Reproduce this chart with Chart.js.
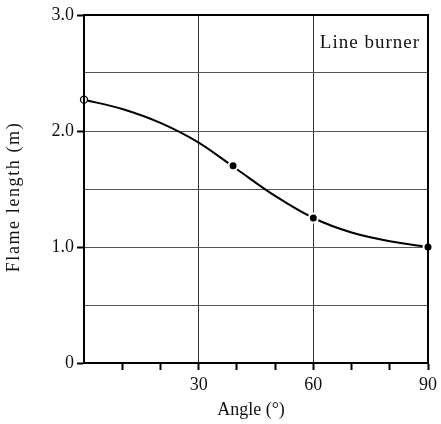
<!DOCTYPE html>
<html><head><meta charset="utf-8">
<script src="https://cdn.jsdelivr.net/npm/chart.js@4"></script>
<style>html,body{margin:0;padding:0;background:#fff}#wrap{width:441px;height:424px}</style>
</head><body><div id="wrap"><canvas id="c" width="441" height="424"></canvas></div>
<script>
// measured points (markers)
const angles = [0, 39, 60, 90];
const flameLength = [2.27, 1.70, 1.25, 1.0];
// fitted curve, every 10 degrees
const curveAngles = [0, 10, 20, 30, 40, 50, 60, 70, 80, 90];
const curveLength = [2.27, 2.19, 2.07, 1.90, 1.67, 1.44, 1.25, 1.125, 1.05, 1.0];
const xTickLabels = {30: '30', 60: '60', 90: '90'};
const yTickLabels = {0: '0', 1: '1.0', 2: '2.0', 3: '3.0'};
const xTitle = 'Angle (°)';
const yTitle = 'Flame length (m)';
const annotationText = 'Line burner';

const FONT = '"Liberation Serif", "DejaVu Serif", serif';

const labelPlugin = {
  id: 'labelPlugin',
  afterDraw(chart) {
    const {ctx, chartArea} = chart;
    ctx.save();
    ctx.fillStyle = '#111';
    ctx.textBaseline = 'middle';
    // annotation
    ctx.font = '19px ' + FONT;
    ctx.letterSpacing = '1px';
    ctx.textAlign = 'right';
    ctx.fillText(annotationText, chartArea.right - 8, chartArea.top + 28);
    // x title
    ctx.letterSpacing = '0px';
    ctx.font = '18px ' + FONT;
    ctx.textAlign = 'center';
    ctx.fillText(xTitle, 251, 410);
    // y title
    ctx.save();
    ctx.translate(14, 197);
    ctx.rotate(-Math.PI / 2);
    ctx.letterSpacing = '1.6px';
    ctx.fillText(yTitle, 0, 0);
    ctx.restore();
    // frame
    ctx.strokeStyle = '#000';
    ctx.lineWidth = 2;
    ctx.strokeRect(chartArea.left, chartArea.top, chartArea.right - chartArea.left, chartArea.bottom - chartArea.top);
    ctx.restore();
  }
};

new Chart(document.getElementById('c'), {
  type: 'line',
  data: {
    datasets: [{
      data: curveAngles.map((a, i) => ({x: a, y: curveLength[i]})),
      borderColor: '#000',
      borderWidth: 2,
      cubicInterpolationMode: 'monotone',
      pointRadius: 0,
      clip: false,
      order: 2
    }, {
      data: angles.map((a, i) => ({x: a, y: flameLength[i]})),
      showLine: false,
      pointRadius: (c) => c.dataIndex === 0 ? 3.5 : 4.5,
      pointBorderWidth: (c) => c.dataIndex === 0 ? 1.3 : 2,
      pointBorderColor: (c) => c.dataIndex === 0 ? '#000' : '#fff',
      pointBackgroundColor: (c) => c.dataIndex === 0 ? '#fff' : '#000',
      clip: false,
      order: 1
    }]
  },
  options: {
    responsive: false,
    animation: false,
    devicePixelRatio: 1,
    layout: {padding: {left: 0, right: 10, top: 15, bottom: 0}},
    plugins: {legend: {display: false}, tooltip: {enabled: false}},
    scales: {
      x: {
        type: 'linear', min: 0, max: 90,
        afterFit: (s) => { s.height = 61; },
        ticks: {
          stepSize: 10, autoSkip: false, maxRotation: 0, padding: 4,
          font: {family: FONT, size: 18}, color: '#111',
          callback: (v) => xTickLabels[v] !== undefined ? xTickLabels[v] : ''
        },
        grid: {
          color: (c) => (c.tick && (c.tick.value === 30 || c.tick.value === 60)) ? '#333' : 'rgba(0,0,0,0)',
          tickColor: (c) => (c.tick && c.tick.value > 0) ? '#000' : 'rgba(0,0,0,0)',
          tickLength: 7, lineWidth: 1, tickWidth: 2
        },
        border: {color: '#000', width: 2}
      },
      y: {
        min: 0, max: 3,
        afterFit: (s) => { s.width = 84; },
        ticks: {
          stepSize: 0.5, autoSkip: false, padding: 3,
          font: {family: FONT, size: 18}, color: '#111',
          callback: (v) => yTickLabels[v] !== undefined ? yTickLabels[v] : ''
        },
        grid: {
          color: (c) => (c.tick && c.tick.value > 0 && c.tick.value < 3) ? '#555' : 'rgba(0,0,0,0)',
          tickColor: (c) => (c.tick && Number.isInteger(c.tick.value)) ? '#000' : 'rgba(0,0,0,0)',
          tickLength: 7, lineWidth: 1, tickWidth: 2
        },
        border: {color: '#000', width: 2}
      }
    }
  },
  plugins: [labelPlugin]
});
</script></body></html>
